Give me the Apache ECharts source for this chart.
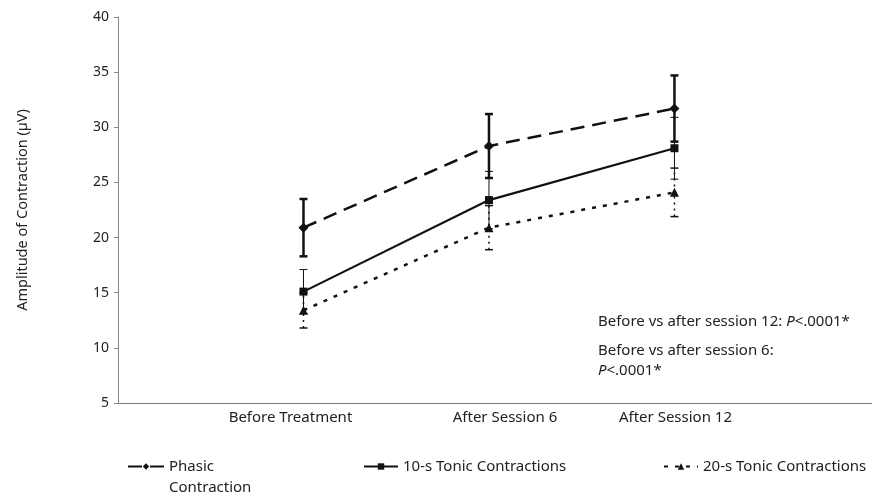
<!DOCTYPE html>
<html><head><meta charset="utf-8">
<script src="https://cdn.jsdelivr.net/npm/echarts@6/dist/echarts.min.js"></script>
<style>html,body{margin:0;padding:0;background:#fff}#c{width:872px;height:496px}</style>
</head><body><div id="c"></div>
<script>
var categories = ['Before Treatment', 'After Session 6', 'After Session 12'];
var xPositions = [1, 2, 3];
var seriesNames = ['Phasic Contraction', '10-s Tonic Contractions', '20-s Tonic Contractions'];
var phasic = [20.9, 28.3, 31.7];
var phasicErr = [2.6, 2.9, 3.0];
var tonic10 = [15.1, 23.4, 28.1];
var tonic10Err = [2.0, 2.6, 2.8];
var tonic20 = [13.4, 20.9, 24.1];
var tonic20Err = [1.6, 2.0, 2.2];
var yTicks = [5, 10, 15, 20, 25, 30, 35, 40];

var FONT = 'Noto Sans';
var INK = '#111';
var TXT = '#222';

function pts(vals) { return vals.map(function (v, i) { return [xPositions[i], v]; }); }
function errPts(vals, errs) { return vals.map(function (v, i) { return [xPositions[i], v - errs[i], v + errs[i]]; }); }

function errSeries(vals, errs, width, dash) {
  return {
    type: 'custom', silent: true, z: 1,
    data: errPts(vals, errs),
    encode: { x: 0, y: [1, 2] },
    renderItem: function (params, api) {
      var lo = api.coord([api.value(0), api.value(1)]);
      var hi = api.coord([api.value(0), api.value(2)]);
      var cw = 4;
      var st = { stroke: INK, lineWidth: width, lineDash: dash || null };
      return { type: 'group', children: [
        { type: 'line', shape: { x1: lo[0], y1: lo[1], x2: hi[0], y2: hi[1] }, style: st },
        { type: 'line', shape: { x1: lo[0] - cw, y1: lo[1], x2: lo[0] + cw, y2: lo[1] }, style: { stroke: INK, lineWidth: width } },
        { type: 'line', shape: { x1: hi[0] - cw, y1: hi[1], x2: hi[0] + cw, y2: hi[1] }, style: { stroke: INK, lineWidth: width } }
      ] };
    }
  };
}

var labelPad = [[0, 26, 0, 0], [0, 0, 0, 32], [0, 0, 0, 2]];

var chart = echarts.init(document.getElementById('c'), null, { renderer: 'canvas' });
chart.setOption({
  animation: false,
  backgroundColor: '#fff',
  textStyle: { fontFamily: FONT },
  grid: { left: 118, right: 0, top: 17, bottom: 93 },
  xAxis: {
    type: 'value', min: 0, max: 4.065, interval: 1,
    axisLine: { show: true, lineStyle: { color: '#777', width: 1 } },
    axisTick: { show: false },
    splitLine: { show: false },
    axisLabel: {
      margin: 7, color: TXT, fontSize: 15, fontFamily: FONT,
      showMaxLabel: false, showMinLabel: false,
      formatter: function (v) {
        var i = xPositions.indexOf(Math.round(v));
        if (i < 0 || Math.abs(v - Math.round(v)) > 1e-6) return '';
        return '{c' + i + '|' + categories[i] + '}';
      },
      rich: {
        c0: { fontSize: 15, color: TXT, fontFamily: FONT, padding: labelPad[0] },
        c1: { fontSize: 15, color: TXT, fontFamily: FONT, padding: labelPad[1] },
        c2: { fontSize: 15, color: TXT, fontFamily: FONT, padding: labelPad[2] }
      }
    }
  },
  yAxis: {
    type: 'value', min: yTicks[0], max: yTicks[yTicks.length - 1], interval: 5,
    name: 'Amplitude of Contraction (µV)', nameLocation: 'middle', nameGap: 88,
    nameTextStyle: { color: TXT, fontSize: 14.5, fontFamily: FONT },
    axisLine: { show: true, lineStyle: { color: '#888', width: 1 } },
    axisTick: { show: true, inside: false, length: 4, lineStyle: { color: '#888' } },
    splitLine: { show: false },
    axisLabel: { margin: 9, color: TXT, fontSize: 14, fontFamily: FONT }
  },
  legend: [
    { left: 127, top: 459, padding: 0, itemWidth: 36, itemHeight: 8, itemGap: 0, data: [seriesNames[0]],
      formatter: function () { return 'Phasic'; },
      textStyle: { color: TXT, fontSize: 15, fontFamily: FONT } },
    { left: 363, top: 459, padding: 0, itemWidth: 34, itemHeight: 8, data: [seriesNames[1]],
      textStyle: { color: TXT, fontSize: 15, fontFamily: FONT } },
    { left: 663, top: 459, padding: 0, itemWidth: 34, itemHeight: 8, data: [seriesNames[2]],
      textStyle: { color: TXT, fontSize: 15, fontFamily: FONT } }
  ],
  graphic: [
    { type: 'text', left: 169, top: 480, style: { text: 'Contraction', fill: TXT, font: '15px "Noto Sans"' } },
    { type: 'text', left: 598, top: 314, style: { text: '{n|Before vs after session 12: }{i|P}{n|<.0001*}',
        rich: { n: { fill: TXT, font: '15px "Noto Sans"' }, i: { fill: TXT, font: 'italic 15px "Noto Sans"' } } } },
    { type: 'text', left: 598, top: 343, style: { text: '{n|Before vs after session 6:}',
        rich: { n: { fill: TXT, font: '15px "Noto Sans"' } } } },
    { type: 'text', left: 598, top: 363, style: { text: '{i|P}{n|<.0001*}',
        rich: { n: { fill: TXT, font: '15px "Noto Sans"' }, i: { fill: TXT, font: 'italic 15px "Noto Sans"' } } } }
  ],
  series: [
    { name: seriesNames[0], type: 'line', z: 3, data: pts(phasic), symbol: 'diamond', symbolSize: 10,
      itemStyle: { color: INK }, lineStyle: { color: INK, width: 2.5, type: [14, 8] } },
    { name: seriesNames[1], type: 'line', z: 3, data: pts(tonic10), symbol: 'rect', symbolSize: 8,
      itemStyle: { color: INK }, lineStyle: { color: INK, width: 2.2, type: 'solid' } },
    { name: seriesNames[2], type: 'line', z: 3, data: pts(tonic20), symbol: 'triangle', symbolSize: 9,
      itemStyle: { color: INK }, lineStyle: { color: INK, width: 2.5, type: [4, 7] } },
    errSeries(phasic, phasicErr, 2.5),
    errSeries(tonic10, tonic10Err, 1),
    errSeries(tonic20, tonic20Err, 1.5, [2, 4])
  ]
});
</script></body></html>
